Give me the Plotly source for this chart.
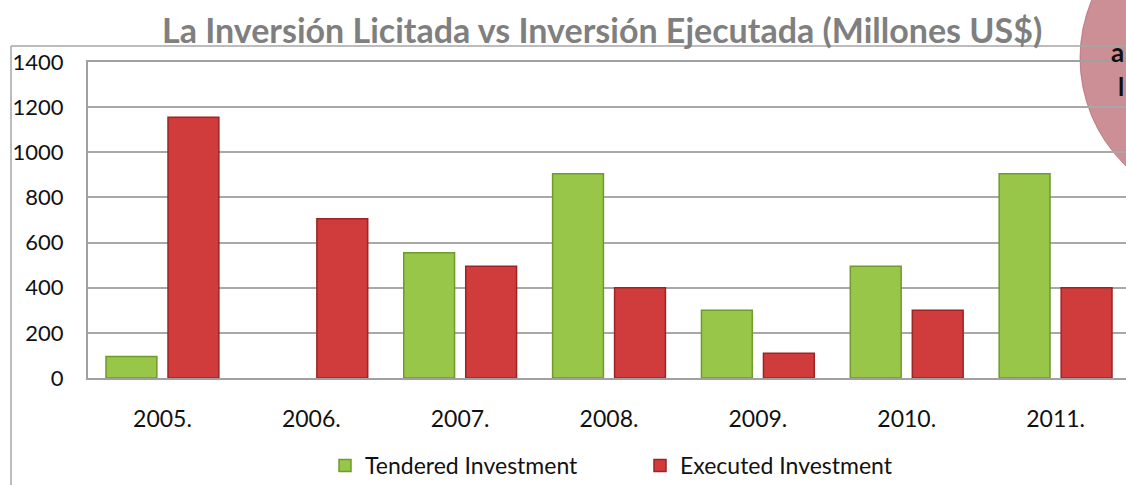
import plotly.graph_objects as go

years = ["2005.", "2006.", "2007.", "2008.", "2009.", "2010.", "2011."]
tendered = [95, None, 555, 905, 300, 495, 905]
executed = [1155, 705, 495, 400, 110, 300, 400]
y_ticks = [0, 200, 400, 600, 800, 1000, 1200, 1400]
title_text = "La Inversión Licitada vs Inversión Ejecutada (Millones US$)"

W, H = 1126, 485
ML, MR, MT, MB = 88, 0, 62, 107
PW, PH = W - ML - MR, H - MT - MB


def px(x):
    return (x - ML) / PW


def py(y):
    return (H - MB - y) / PH


FONT = "Lato"
fig = go.Figure()
fig.add_trace(go.Bar(
    x=years, y=tendered, name="Tendered Investment",
    marker=dict(color="#97c649", line=dict(color="#6f9a2c", width=1.5)),
))
fig.add_trace(go.Bar(
    x=years, y=executed, name="Executed Investment",
    marker=dict(color="#d03c3c", line=dict(color="#9c2424", width=1.5)),
))

shapes = [
    # decorative circle at top right
    dict(type="circle", xref="paper", yref="paper", layer="below",
         x0=px(1080), x1=px(1380), y0=py(208), y1=py(-92),
         fillcolor="rgba(180,90,100,0.68)", line=dict(color="rgba(170,80,90,0.6)", width=1)),
    # outer frame
    dict(type="line", xref="paper", yref="paper", x0=px(11), x1=px(11), y0=py(46), y1=py(490),
         line=dict(color="#a6a6a6", width=1.5)),
    dict(type="line", xref="paper", yref="paper", x0=px(11), x1=px(1130), y0=py(46), y1=py(46),
         line=dict(color="#a6a6a6", width=1.5)),
]

annotations = [
    dict(text=title_text, xref="paper", yref="paper", x=px(602), y=py(30),
         xanchor="center", yanchor="middle", showarrow=False,
         font=dict(family=FONT, size=34, color="#7f7f7f", weight="bold")),
    dict(text="a", xref="paper", yref="paper", x=px(1126), y=py(52),
         xanchor="right", yanchor="middle", showarrow=False,
         font=dict(family=FONT, size=26, color="#111111", weight="bold")),
    dict(text="l", xref="paper", yref="paper", x=px(1126), y=py(86),
         xanchor="right", yanchor="middle", showarrow=False,
         font=dict(family=FONT, size=25, color="#111111", weight="bold")),
]

fig.update_layout(
    width=W, height=H,
    margin=dict(l=ML, r=MR, t=MT, b=MB, pad=0, autoexpand=False),
    paper_bgcolor="white", plot_bgcolor="rgba(0,0,0,0)",
    barmode="group", bargap=0.167, bargroupgap=0.18,
    font=dict(family=FONT, size=22, color="#111111"),
    showlegend=True,
    legend=dict(orientation="h", x=px(325), y=py(444), xanchor="left", yanchor="top",
                entrywidth=270, entrywidthmode="pixels",
                font=dict(family=FONT, size=23, color="#111111"),
                bgcolor="rgba(0,0,0,0)"),
    shapes=shapes, annotations=annotations,
)
fig.update_xaxes(range=[-0.5, 6.473], showline=True, mirror=True, linecolor="#a0a0a0", linewidth=2,
                 ticks="", showgrid=False, ticklabelstandoff=19, automargin=False,
                 tickfont=dict(family=FONT, size=23, color="#111111"))
fig.update_yaxes(range=[0, 1400], tickvals=y_ticks, showline=True, mirror=False,
                 linecolor="#a0a0a0", linewidth=2, showgrid=True, gridcolor="#a8a8a8", gridwidth=1.5,
                 zeroline=False, ticks="", ticklabelstandoff=18, automargin=False,
                 tickfont=dict(family=FONT, size=22, color="#111111"))

fig.write_html("out.html", config={"displayModeBar": False},
               post_script="document.body.style.margin='0';document.body.style.overflow='hidden';")
